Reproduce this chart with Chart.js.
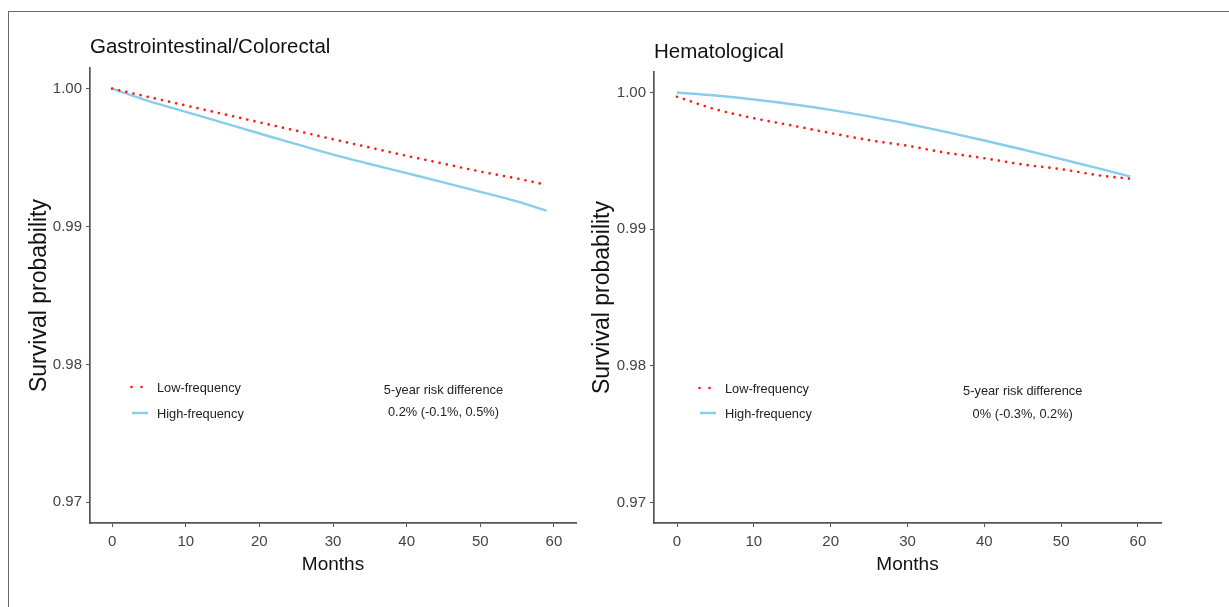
<!DOCTYPE html>
<html><head><meta charset="utf-8">
<script src="https://cdn.jsdelivr.net/npm/chart.js@4.4.1/dist/chart.umd.min.js"></script>
<style>
html,body{margin:0;padding:0;background:#fff;}
body{width:1229px;height:607px;position:relative;overflow:hidden;}
#frame{position:absolute;left:8px;top:11px;width:1240px;height:620px;border-top:1px solid #6a6a6a;border-left:1px solid #6a6a6a;}
canvas{position:absolute;top:0;}
#c1{left:0;} #c2{left:580px;}
</style></head><body>
<div id="frame"></div>
<canvas id="c1" width="580" height="607"></canvas>
<canvas id="c2" width="649" height="607"></canvas>
<script>
// ---- data ----
const months   = [0, 5, 10, 15, 20, 25, 30, 35, 40, 45, 50, 55, 59];
const giLow    = [1.0000, 0.99939, 0.99878, 0.99817, 0.99756, 0.99695, 0.99633, 0.99573, 0.99513, 0.99456, 0.99399, 0.99348, 0.99302];
const giHigh   = [1.0000, 0.99910, 0.99832, 0.99754, 0.99675, 0.99598, 0.99522, 0.99454, 0.99387, 0.99320, 0.99252, 0.99182, 0.99115];
const hemLow   = [0.99969, 0.99877, 0.99812, 0.99758, 0.99703, 0.99651, 0.99610, 0.99559, 0.99519, 0.99473, 0.99439, 0.99393, 0.99369];
const hemHigh  = [1.0000, 0.99978, 0.99949, 0.99914, 0.99873, 0.99825, 0.99771, 0.99712, 0.99649, 0.99583, 0.99513, 0.99443, 0.99385];
const seriesNames = ['Low-frequency', 'High-frequency'];
const panelTitles = ['Gastrointestinal/Colorectal', 'Hematological'];
const riskLines1  = ['5-year risk difference', '0.2% (-0.1%, 0.5%)'];
const riskLines2  = ['5-year risk difference', '0% (-0.3%, 0.2%)'];
const xTicks = [0, 10, 20, 30, 40, 50, 60];
const yTicks = [0.97, 0.98, 0.99, 1.00];
const xTitle = 'Months';
const yTitle = 'Survival probability';

const FONT = "'Liberation Sans', Arial, sans-serif";
const AXIS = '#555555';
const TICKTXT = '#444444';

const decor = {
  id: 'decor',
  afterDraw(chart, args, o) {
    const ctx = chart.ctx, ca = chart.chartArea;
    const xs = chart.scales.x, ys = chart.scales.y;
    ctx.save();
    // panel title
    ctx.fillStyle = '#111';
    ctx.font = '20.5px ' + FONT;
    ctx.textAlign = 'left';
    ctx.textBaseline = 'middle';
    ctx.fillText(o.title, ca.left, o.titleY);
    // legend
    const ds = chart.data.datasets;
    ctx.font = '12.8px ' + FONT;
    ds.forEach((d, i) => {
      const y = o.legendY[i];
      const x0 = ca.left + o.legendDx;
      ctx.save();
      ctx.strokeStyle = d.borderColor;
      ctx.lineWidth = d.borderWidth;
      ctx.lineCap = d.borderDash ? 'round' : 'butt';
      ctx.setLineDash(d.borderDash ? [0, 10] : []);
      ctx.beginPath();
      ctx.moveTo(x0 + (d.borderDash ? 1.5 : 2), y);
      ctx.lineTo(x0 + (d.borderDash ? 12 : 18), y);
      ctx.stroke();
      ctx.restore();
      ctx.fillStyle = '#222';
      ctx.textAlign = 'left';
      ctx.fillText(d.label, x0 + 27, y + 1);
    });
    // risk difference annotation (anchored in data units)
    const cx = xs.getPixelForValue(o.riskX);
    const cy = ys.getPixelForValue(o.riskY);
    ctx.textAlign = 'center';
    ctx.fillStyle = '#222';
    ctx.fillText(o.risk[0], cx, cy - 11.3);
    ctx.fillText(o.risk[1], cx, cy + 11.3);
    ctx.restore();
  }
};

function makeChart(id, low, high, c) {
  return new Chart(document.getElementById(id), {
    type: 'line',
    data: {
      datasets: [
        { label: seriesNames[0], data: months.map((m, i) => ({x: m, y: low[i]})),
          borderColor: '#ff1a1a', borderWidth: 2.7, borderDash: [0, 7.3], borderCapStyle: 'round',
          pointRadius: 0, cubicInterpolationMode: 'monotone', fill: false },
        { label: seriesNames[1], data: months.map((m, i) => ({x: m, y: high[i]})),
          borderColor: '#87ceeb', borderWidth: 2.4, pointRadius: 0,
          cubicInterpolationMode: 'monotone', fill: false }
      ]
    },
    options: {
      responsive: false, animation: false,
      layout: { padding: { left: 0, right: c.right, top: c.top, bottom: 0 } },
      plugins: {
        legend: { display: false }, tooltip: { enabled: false }, title: { display: false },
        decor: c
      },
      scales: {
        x: {
          type: 'linear', min: -3, max: 63,
          afterBuildTicks: s => { s.ticks = xTicks.map(v => ({value: v})); },
          afterFit: s => { s.height = 84; },
          ticks: { font: { family: FONT, size: 15 }, color: TICKTXT, padding: 6, maxRotation: 0, autoSkip: false },
          grid: { drawOnChartArea: false, drawTicks: true, tickLength: 4, color: AXIS, lineWidth: 1 },
          border: { display: true, color: AXIS, width: 1.7 },
          title: { display: true, text: xTitle, color: '#111', font: { family: FONT, size: 19 }, padding: { top: 0, bottom: 30.6 } }
        },
        y: {
          type: 'linear', min: 0.9685, max: 1.0015,
          afterBuildTicks: s => { s.ticks = yTicks.map(v => ({value: v})); },
          afterFit: s => { s.width = c.yWidth; },
          ticks: { font: { family: FONT, size: 15 }, color: TICKTXT, padding: 4, callback: v => v.toFixed(2) },
          grid: { drawOnChartArea: false, drawTicks: true, tickLength: 4, color: AXIS, lineWidth: 1 },
          border: { display: true, color: AXIS, width: 1.7 },
          title: { display: true, text: yTitle, color: '#111', font: { family: FONT, size: 23 }, padding: { top: c.yTitlePad, bottom: 0 } }
        }
      }
    },
    plugins: [decor]
  });
}

makeChart('c1', giLow, giHigh, {
  yWidth: 90, right: 4, top: 68, yTitlePad: 26.2,
  title: panelTitles[0], titleY: 47,
  legendDx: 40, legendY: [387, 413],
  risk: riskLines1, riskX: 45, riskY: 0.9773
});
makeChart('c2', hemLow, hemHigh, {
  yWidth: 74, right: 68, top: 72, yTitlePad: 9.2,
  title: panelTitles[1], titleY: 52,
  legendDx: 44, legendY: [388, 413],
  risk: riskLines2, riskX: 45, riskY: 0.9773
});
</script>
</body></html>
